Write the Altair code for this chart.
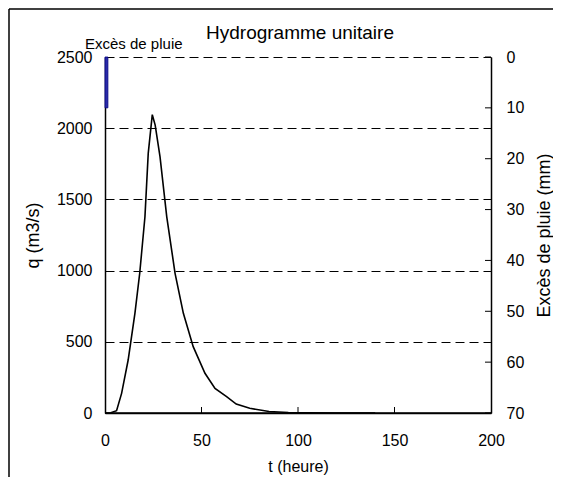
import altair as alt
import pandas as pd

# Unit hydrograph (t in hours, q in m3/s)
t_hours = [0, 3, 6, 8.6, 12, 15.5, 18, 20.7, 22.4, 24.5, 26, 28.5, 32, 36.3, 40.6,
           45.7, 51.8, 57, 63, 68, 75, 85, 95, 105, 120, 140]
q_m3s = [0, 2, 16, 138, 372, 700, 983, 1378, 1823, 2095, 2022, 1800, 1378, 981, 700,
         466, 279, 173, 115, 63, 33, 10, 3, 1, 0.3, 0.1]

# Rainfall excess
rain_start = [0]
rain_end = [1.5]
rain_mm = [10]

x_ticks = [0, 50, 100, 150, 200]
q_ticks = [0, 500, 1000, 1500, 2000, 2500]
rain_ticks = [0, 10, 20, 30, 40, 50, 60, 70]

TITLE = "Hydrogramme unitaire"
FONT = "Liberation Sans"
W, H = 386, 356

hydro = pd.DataFrame({"t": t_hours, "q": q_m3s})
rain = pd.DataFrame({"t0": rain_start, "t1": rain_end, "mm": rain_mm})
xt = pd.DataFrame({"t": x_ticks[1:-1]})
rt = pd.DataFrame({"mm": rain_ticks})
one = pd.DataFrame({"a": [0]})

x_scale = alt.Scale(domain=[0, 200], nice=False, zero=False)
q_scale = alt.Scale(domain=[0, 2500], nice=False)
r_scale = alt.Scale(domain=[0, 70], nice=False, reverse=True)


def x_axis():
    return alt.Axis(values=x_ticks, title="t (heure)", ticks=False, grid=False,
                    labelPadding=19, titlePadding=10, titleFontSize=16, format="d",
                    orient="bottom", labelFlush=False)


line = alt.Chart(hydro).mark_line(color="black", strokeWidth=1.6).encode(
    x=alt.X("t:Q", scale=x_scale, axis=x_axis()),
    y=alt.Y("q:Q", scale=q_scale,
            axis=alt.Axis(values=q_ticks, title="q (m3/s)", ticks=False, grid=True,
                          gridDash=[9, 5], gridColor="black", gridWidth=1, gridOpacity=1,
                          labelPadding=13, titlePadding=14, titleFontSize=18,
                          format="d")),
)

x_inward = alt.Chart(xt).mark_rule(color="black", strokeWidth=1).encode(
    x=alt.X("t:Q", scale=x_scale, axis=x_axis()),
    y=alt.value(H), y2=alt.value(H - 6),
)

bottom_frame = alt.Chart(one).mark_rule(color="black", strokeWidth=1.5).encode(
    x=alt.value(0), x2=alt.value(W), y=alt.value(H))
border_left = alt.Chart(one).mark_rule(color="black", strokeWidth=1.5).encode(
    x=alt.value(-96), y=alt.value(-48), y2=alt.value(480))
border_top = alt.Chart(one).mark_rule(color="black", strokeWidth=1.5).encode(
    x=alt.value(-96), x2=alt.value(600), y=alt.value(-48))

legend_text = alt.Chart(one).mark_text(
    text="Excès de pluie", align="left", baseline="alphabetic",
    fontSize=15, font=FONT, color="black").encode(x=alt.value(-20), y=alt.value(-8))

title_text = alt.Chart(one).mark_text(
    text=TITLE, align="center", baseline="alphabetic",
    fontSize=19, font=FONT, color="black").encode(x=alt.value(W / 2 + 2), y=alt.value(-18))

bar = alt.Chart(rain).mark_rect(color="#2a2aa8", stroke="#000080", strokeWidth=0.8).encode(
    x=alt.X("t0:Q", scale=x_scale, axis=x_axis()),
    x2="t1:Q",
    y=alt.Y("mm:Q", scale=r_scale,
            axis=alt.Axis(orient="right", values=rain_ticks, title="Excès de pluie (mm)",
                          ticks=False, grid=False, labelPadding=15, titlePadding=12,
                          titleFontSize=18, titleAngle=270, titleBaseline="top",
                          format="d")),
    y2=alt.datum(0),
)

r_inward = alt.Chart(rt).mark_rule(color="black", strokeWidth=1).encode(
    y=alt.Y("mm:Q", scale=r_scale, axis=None),
    x=alt.value(W), x2=alt.value(W - 6),
)

chart = alt.layer(
    line, bar, r_inward, x_inward, bottom_frame, border_left, border_top,
    legend_text, title_text
).resolve_scale(y="independent").properties(
    width=W, height=H,
    autosize="none",
    background="white",
    padding={"left": 97, "top": 49, "right": 62, "bottom": 64},
).configure_view(stroke=None).configure_axis(
    labelFont=FONT, labelFontSize=16, labelColor="black",
    titleFont=FONT, titleFontWeight="normal", titleColor="black",
    domainColor="black", domainWidth=1.5,
)

chart.save("out.html", embed_options={"renderer": "svg", "actions": False})
